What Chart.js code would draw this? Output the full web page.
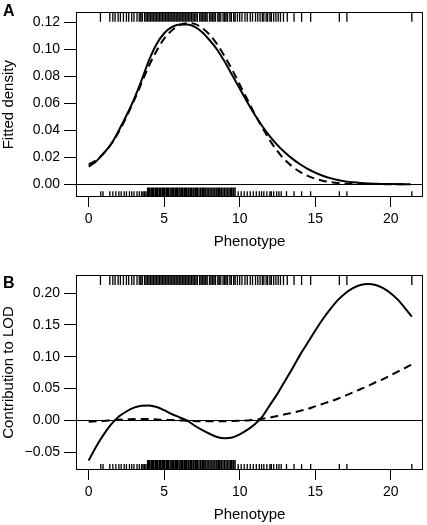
<!DOCTYPE html>
<html><head><meta charset="utf-8">
<script src="https://cdn.jsdelivr.net/npm/chart.js@4"></script>
<style>
html,body{margin:0;padding:0;background:#fff;}
#wrap{position:relative;width:427px;height:525px;overflow:hidden;font-family:"Liberation Sans",Arial,sans-serif;}
canvas{position:absolute;left:0;}
.lab{position:absolute;left:3px;font-weight:bold;font-size:16px;line-height:16px;color:#000;}
</style></head><body>
<div id="wrap">
<canvas id="cA" width="427" height="262" style="top:0"></canvas>
<canvas id="cB" width="427" height="263" style="top:262px"></canvas>
<div class="lab" style="top:3px">A</div>
<div class="lab" style="top:275px">B</div>
</div>
<script>
// ---- data ----
const xTicks = [0, 5, 10, 15, 20];
const xTickLabels = ["0", "5", "10", "15", "20"];

const yTicksA = [0, 0.02, 0.04, 0.06, 0.08, 0.10, 0.12];
const yTickLabelsA = ["0.00", "0.02", "0.04", "0.06", "0.08", "0.10", "0.12"];
const yTicksB = [-0.05, 0, 0.05, 0.10, 0.15, 0.20];
const yTickLabelsB = ["\u22120.05", "0.00", "0.05", "0.10", "0.15", "0.20"];

const phenoA = [0,0.5,1,1.5,2,2.5,3,3.5,4,4.5,5,5.5,6,6.5,7,7.5,8,8.5,9,9.5,10,10.5,11,11.5,12,12.5,13,13.5,14,14.5,15,15.5,16,16.5,17,17.5,18,19,20,21.3];
const densitySolid = [0.013,0.017,0.023,0.030,0.040,0.051,0.063,0.077,0.092,0.104,0.112,0.1165,0.1185,0.1185,0.117,0.113,0.107,0.100,0.091,0.081,0.071,0.061,0.0515,0.043,0.0355,0.029,0.0235,0.0188,0.0148,0.0114,0.0086,0.0063,0.0045,0.0031,0.0021,0.0014,0.0009,0.0003,0.0001,0.0];
const densityDashed = [0.0145,0.018,0.023,0.030,0.039,0.050,0.062,0.075,0.088,0.099,0.108,0.114,0.118,0.1195,0.119,0.116,0.111,0.104,0.095,0.085,0.074,0.063,0.052,0.042,0.0325,0.0245,0.018,0.013,0.0091,0.0062,0.0041,0.0026,0.0016,0.0009,0.0005,0.0003,0.0002,0.0001,0.0,0.0];

const phenoB = [0,0.5,1,1.5,2,2.5,3,3.5,4,4.5,5,5.5,6,6.5,7,7.5,8,8.5,9,9.5,10,10.5,11,11.5,12,12.5,13,13.5,14,14.5,15,15.5,16,16.5,17,17.5,18,18.5,19,19.5,20,20.5,21,21.4];
const lodSolid = [-0.063,-0.041,-0.022,-0.006,0.006,0.014,0.020,0.023,0.0235,0.021,0.016,0.010,0.005,0.000,-0.008,-0.015,-0.021,-0.026,-0.028,-0.027,-0.022,-0.015,-0.006,0.006,0.024,0.042,0.062,0.082,0.103,0.122,0.141,0.159,0.175,0.189,0.200,0.208,0.213,0.2145,0.213,0.208,0.200,0.189,0.175,0.163];
const lodDashed = [-0.002,-0.0015,-0.001,0.000,0.001,0.0015,0.002,0.002,0.002,0.0015,0.001,0.0005,0.000,-0.0005,-0.001,-0.0015,-0.0015,-0.0015,-0.0015,-0.001,-0.0005,0.000,0.001,0.0025,0.0045,0.007,0.0095,0.012,0.015,0.018,0.022,0.026,0.030,0.034,0.039,0.044,0.049,0.054,0.060,0.065,0.071,0.077,0.083,0.088];

const rugTop = [0.78,1.4,1.6,1.75,1.95,2.1,2.3,2.5,2.65,2.85,3.0,3.2,3.35,3.45,3.55,3.7,3.8,3.9,4.0,4.1,4.2,4.3,4.4,4.5,4.6,4.7,4.8,4.9,5.0,5.1,5.2,5.3,5.4,5.5,5.6,5.7,5.8,5.9,6.0,6.1,6.2,6.3,6.4,6.5,6.6,6.7,6.8,6.9,7.0,7.1,7.2,7.35,7.45,7.55,7.65,7.75,7.85,8.0,8.1,8.2,8.3,8.4,8.55,8.65,8.75,8.9,9.0,9.1,9.2,9.35,9.45,9.6,9.7,9.85,10.0,10.15,10.35,10.5,10.7,10.85,11.05,11.2,11.35,11.5,11.6,11.75,11.85,12.0,12.1,12.25,12.4,12.55,12.7,12.9,13.15,13.6,14.1,14.7,16.6,17.1,21.4];
const rugBottomTall = [3.9,3.98,4.05,4.15,4.22,4.3,4.4,4.48,4.55,4.65,4.72,4.8,4.9,4.98,5.05,5.15,5.22,5.3,5.4,5.5,5.58,5.65,5.75,5.82,5.9,6.0,6.1,6.18,6.25,6.35,6.42,6.5,6.6,6.7,6.78,6.85,6.95,7.05,7.12,7.2,7.3,7.4,7.5,7.58,7.65,7.75,7.85,7.95,8.05,8.15,8.25,8.35,8.45,8.55,8.62,8.7,8.8,8.9,9.0,9.1,9.2,9.3,9.4,9.45,9.55,9.6,9.7];
const rugBottomShort = [0.8,0.95,1.4,1.6,1.8,2.0,2.15,2.35,2.5,2.7,2.85,3.0,3.2,3.35,3.5,3.6,3.7,3.8,9.9,10.1,10.3,10.5,10.7,10.9,11.1,11.3,11.45,11.6,11.8,12.0,12.1,12.25,12.45,12.6,12.75,13.1,13.6,14.1,14.7,16.6,17.1,21.4];

// ---- helpers ----
Chart.defaults.font.family = '"Liberation Sans", Arial, sans-serif';
Chart.defaults.color = '#000';

function rugData(vals, y0, y1) {
  const out = [];
  vals.forEach(v => { out.push({x: v, y: y0}, {x: v, y: y1}, {x: v, y: null}); });
  return out;
}
function pairs(xs, ys) { return xs.map((x, i) => ({x: x, y: ys[i]})); }

const boxPlugin = {
  id: 'box',
  afterDatasetsDraw(chart) {
    const a = chart.chartArea, c = chart.ctx;
    c.save();
    c.strokeStyle = '#000';
    c.lineWidth = 1;
    c.strokeRect(Math.round(a.left) + 0.5, Math.round(a.top) + 0.5,
                 Math.round(a.right - a.left) - 1, Math.round(a.bottom - a.top) - 1);
    c.restore();
  }
};

const TALL = 10 / 195, SHORT = 6 / 195;

function makeChart(id, o) {
  const rugStyle = {yAxisID: 'yRug', borderColor: '#000', borderWidth: 1.3, pointRadius: 0, tension: 0, spanGaps: false};
  new Chart(document.getElementById(id), {
    type: 'line',
    data: {
      datasets: [
        Object.assign({data: rugData(rugTop, 1 - TALL, 1)}, rugStyle),
        Object.assign({data: rugData(rugBottomTall, 0, TALL)}, rugStyle),
        Object.assign({data: rugData(rugBottomShort, 0, SHORT)}, rugStyle),
        {data: pairs(o.xs, o.solid), yAxisID: 'y', borderColor: '#000', borderWidth: 2, pointRadius: 0, cubicInterpolationMode: 'monotone'},
        {data: pairs(o.xs, o.dashed), yAxisID: 'y', borderColor: '#000', borderWidth: 2, borderDash: [8, 5], pointRadius: 0, cubicInterpolationMode: 'monotone'}
      ]
    },
    options: {
      responsive: false, animation: false, devicePixelRatio: 1,
      layout: {padding: {top: o.padTop, right: 4, left: 0, bottom: 0}},
      plugins: {legend: {display: false}, tooltip: {enabled: false}},
      scales: {
        x: {
          type: 'linear', min: -0.84, max: 22.14,
          afterBuildTicks: s => { s.ticks = xTicks.map(v => ({value: v})); },
          afterFit: s => { s.height = o.xAxisH; },
          grid: {drawOnChartArea: false, tickLength: 10, tickColor: '#000', lineWidth: 1},
          border: {display: false},
          ticks: {color: '#000', font: {size: 14}, padding: 4, maxRotation: 0, autoSkip: false,
                  callback: (v, i) => xTickLabels[i]},
          title: {display: true, text: 'Phenotype', color: '#000', font: {size: 15}, padding: {top: 0, bottom: o.titlePadBottom}}
        },
        y: {
          type: 'linear', min: o.yMin, max: o.yMax,
          afterBuildTicks: s => { s.ticks = o.yTicks.map(v => ({value: v})); },
          afterFit: s => { s.width = 76; },
          grid: {drawOnChartArea: true, tickLength: 12, tickColor: '#000', lineWidth: 1,
                 color: c => (c.tick && c.tick.value === 0) ? '#000' : 'rgba(0,0,0,0)'},
          border: {display: false},
          ticks: {color: '#000', font: {size: 14}, padding: 4, autoSkip: false,
                  callback: (v, i) => o.yLabels[i]},
          title: {display: true, text: o.yTitle, color: '#000', font: {size: 15}, padding: {top: 0, bottom: 0}}
        },
        yRug: {type: 'linear', axis: 'y', position: 'right', min: 0, max: 1, display: false}
      }
    },
    plugins: [boxPlugin]
  });
}

makeChart('cA', {
  xs: phenoA, solid: densitySolid, dashed: densityDashed,
  yMin: -0.0095, yMax: 0.1275, yTicks: yTicksA, yLabels: yTickLabelsA,
  yTitle: 'Fitted density', padTop: 2, xAxisH: 65, titlePadBottom: 11
});
makeChart('cB', {
  xs: phenoB, solid: lodSolid, dashed: lodDashed,
  yMin: -0.078, yMax: 0.2286, yTicks: yTicksB, yLabels: yTickLabelsB,
  yTitle: 'Contribution to LOD', padTop: 13, xAxisH: 55, titlePadBottom: 1
});
</script>
</body></html>
